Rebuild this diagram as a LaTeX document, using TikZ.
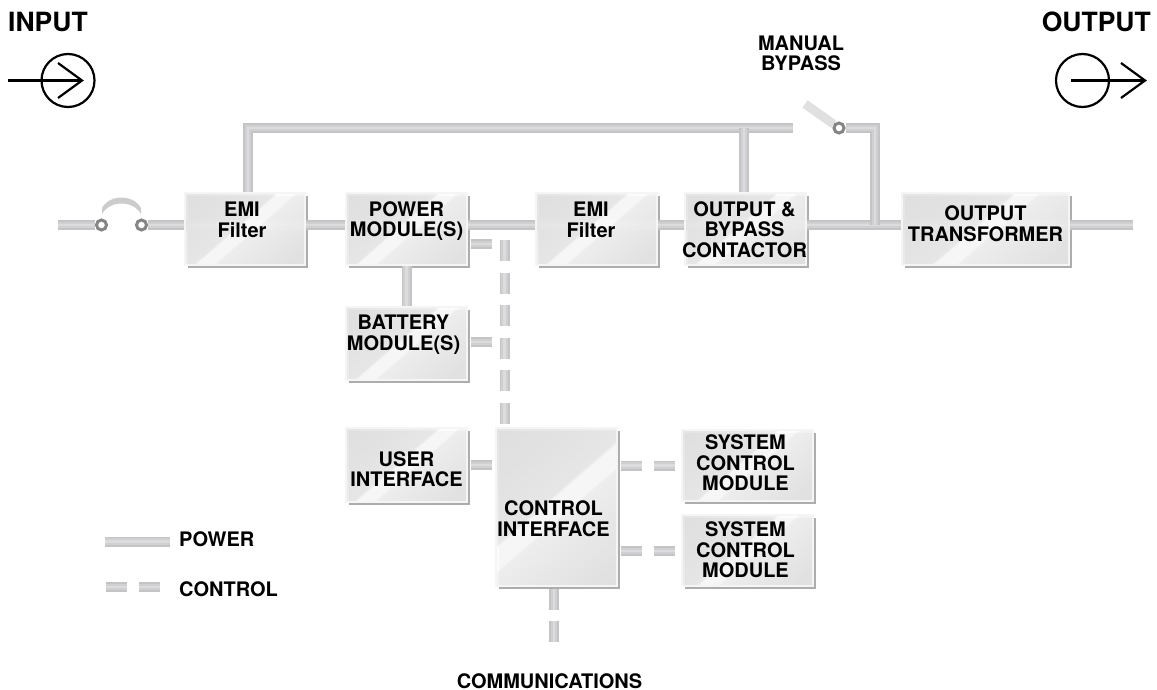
\documentclass[tikz,border=0pt]{standalone}
\usepackage{fontspec}
\setmainfont{TeX Gyre Heros}
\usetikzlibrary{backgrounds}
\renewcommand{\arraystretch}{.95}
\definecolor{bA}{HTML}{DEDEDE}
\definecolor{bB}{HTML}{EBEBEB}
\definecolor{bC}{HTML}{FCFCFC}
\definecolor{bD}{HTML}{F2F2F2}
\definecolor{bE}{HTML}{DCDCDC}
\definecolor{lnA}{HTML}{C4C4C6}
\definecolor{lnB}{HTML}{D0D0D2}
\definecolor{lnC}{HTML}{DCDCDD}
\pgfdeclarehorizontalshading{boxface}{100bp}{
 color(0bp)=(bA);
 color(46bp)=(bB);
 color(47bp)=(bC);
 color(53bp)=(bC);
 color(54bp)=(bD);
 color(100bp)=(bE)}
\tikzset{
 x=1pt,y=-1pt,
 lbl/.style={font=\bfseries\fontsize{20}{20}\selectfont,align=center,inner sep=0pt,text=black},
 onelbl/.style={font=\bfseries\fontsize{20}{20}\selectfont,inner sep=0pt,text=black},
 box/.style={shading=boxface,shading angle=-49,draw=black!4,line width=1.5pt,inner sep=0pt,fill opacity=.93,text opacity=1,text=black,
   font=\bfseries\fontsize{20}{20}\selectfont},
 shad/.style={fill=black!32,draw=none},
 pw/.style={line width=10pt,draw=lnA,line cap=butt,line join=miter,
   postaction={draw=lnB,line width=6.5pt},
   postaction={draw=lnC,line width=2.5pt}},
 ctl/.style={line width=10pt,draw=lnA,line cap=butt,dash pattern=on 21pt off 11.6pt,
   postaction={draw=lnB,line width=6.5pt,dash pattern=on 21pt off 11.6pt},
   postaction={draw=lnC,line width=2.5pt,dash pattern=on 21pt off 11.6pt}},
 sym/.style={line width=2.2pt,draw=black},
 ring/.style={circle,draw=black,line width=2.2pt,minimum size=53pt,inner sep=0pt},
 pivot/.style={circle,draw=black!48,fill=white,line width=3pt,minimum size=10pt,inner sep=0pt},
 title/.style={font=\bfseries\fontsize{26.5}{28}\selectfont,inner sep=0pt,text=black},
}
% name, x1,y1,x2,y2, dx, dy, text
\newcommand{\blk}[8]{%
 \begin{scope}[on background layer]
 \path[shad] (#2+3,#3+3) rectangle (#4+3,#5+3);
 \end{scope}
 \node[box,minimum width=#4pt-#2pt,minimum height=#5pt-#3pt] (#1) at ({(#2+#4)/2},{(#3+#5)/2})
  {\smash{\raisebox{\dimexpr#7pt-2.5pt\relax}{\makebox[0pt]{\kern\dimexpr 2\dimexpr#6pt\relax\relax\begin{tabular}{@{}c@{}}#8\end{tabular}}}}};
}
\begin{document}
\begin{tikzpicture}
\useasboundingbox (0,0) rectangle (1157,690);
\coordinate (m) at (0,225);
% free ends and junctions
\coordinate (inend) at (58,225);
\coordinate (outend) at (1133,225);
\coordinate (bycorner) at (248,128);
\coordinate (byend) at (793,128);
\coordinate (byj) at (744,128);
\coordinate (mbc) at (875,128);
\coordinate (mbd) at (875,225);
\coordinate (bus) at (504.5,240);
\coordinate (busend) at (504.5,424);
\coordinate (pma) at (471,244);
\coordinate (pmb) at (493,244);
\coordinate (bta) at (471,342);
\coordinate (btb) at (493,342);
\coordinate (uia) at (471,465);
\coordinate (uib) at (493,465);
\coordinate (saa) at (621,465.5);
\coordinate (sab) at (678,465.5);
\coordinate (sba) at (621,551);
\coordinate (sbb) at (678,551);
\coordinate (coma) at (554,588.5);
\coordinate (comb) at (554,642);
\coordinate (blend) at (805,104);
% boxes
\blk{emia}{185}{193}{305}{265}{-3}{3.5}{EMI\\Filter}
\blk{pm}{346}{193}{467}{265}{0}{4.5}{POWER\\MODULE(S)}
\blk{emib}{536}{193}{657}{265}{-5.5}{3.5}{EMI\\Filter}
\blk{oc}{685}{193}{806}{265}{-1}{-6}{OUTPUT \&\\BYPASS\\CONTACTOR}
\blk{tr}{902}{193}{1069}{265}{0}{0}{OUTPUT\\TRANSFORMER}
\blk{bat}{346}{307}{467}{380}{-3}{5.5}{BATTERY\\MODULE(S)}
\blk{ui}{346}{428}{467}{502}{0}{-9.5}{USER\\INTERFACE}
\blk{ci}{496}{428}{617}{586}{-3}{-17}{CONTROL\\INTERFACE}
\blk{sa}{682}{430}{813}{501}{-2}{-3}{SYSTEM\\CONTROL\\MODULE}
\blk{sb}{682}{515}{813}{586}{-2}{-5}{SYSTEM\\CONTROL\\MODULE}
% switch contacts
\node[pivot] (fa) at (101.5,225) {};
\node[pivot] (fb) at (141.5,225) {};
\node[pivot] (mb) at (839,128) {};
\begin{scope}[on background layer]
 \draw[pw] (inend) -- (fa);
 \draw[pw] (fb) -- (emia.center |- m) -- (pm.center |- m) -- (emib.center |- m) -- (oc.center |- m) -- (tr.center |- m) -- (outend);
 \draw[pw] (byend) -- (bycorner) -- (bycorner |- emia.north);
 \draw[pw] (byj) -- (byj |- oc.north);
 \draw[pw] (mb) -- (mbc) -- (mbd);
 \draw[pw] (pm.south) -- (bat.north);
 \draw[ctl] (bus) -- (busend);
 \draw[ctl] (pma) -- (pmb);
 \draw[ctl] (bta) -- (btb);
 \draw[ctl] (uia) -- (uib);
 \draw[ctl] (saa) -- (sab);
 \draw[ctl] (sba) -- (sbb);
 \draw[ctl] (coma) -- (comb);
\end{scope}
% fuse arc and bypass blade
\fill[black!20] (102,214) -- (102,208) .. controls (110,194) and (133,194) .. (141,208) -- (141,214) .. controls (133,200) and (110,200) .. (102,214) -- cycle;
\begin{scope}[on background layer]
\draw[line width=9pt,draw=black!12] (mb) -- (blend);
\end{scope}
% labels
\node[title,anchor=west] (inp) at (8,22) {INPUT};
\node[title,anchor=east] (outp) at (1151,22) {OUTPUT};
\node[lbl] (mbl) at (801,53) {MANUAL\\BYPASS};
\node[onelbl,anchor=west] (lp) at (179,539) {POWER};
\node[onelbl,anchor=west] (lc) at (179,589) {CONTROL};
\node[onelbl,anchor=base] (cm) at (549.5,688.5) {COMMUNICATIONS};
% legend
\coordinate (lpa) at (105,541.5);
\coordinate (lpb) at (170,541.5);
\coordinate (lca) at (106,587);
\coordinate (lcb) at (162,587);
\draw[pw] (lpa) -- (lpb);
\draw[ctl] (lca) -- (lcb);
% input / output symbols
\node[ring] (ic) at (68,80.5) {};
\coordinate (ia) at (8,80.5);
\coordinate (itip) at (82,80.5);
\draw[sym] (ia) -- (itip);
\draw[sym] (58,63) -- (itip) -- (58,98);
\node[ring] (oc2) at (1082.5,80.5) {};
\coordinate (oa) at (1071,80.5);
\coordinate (otip) at (1145,80.5);
\draw[sym] (oa) -- (otip);
\draw[sym] (1121,63) -- (otip) -- (1121,98);
\end{tikzpicture}
\end{document}
